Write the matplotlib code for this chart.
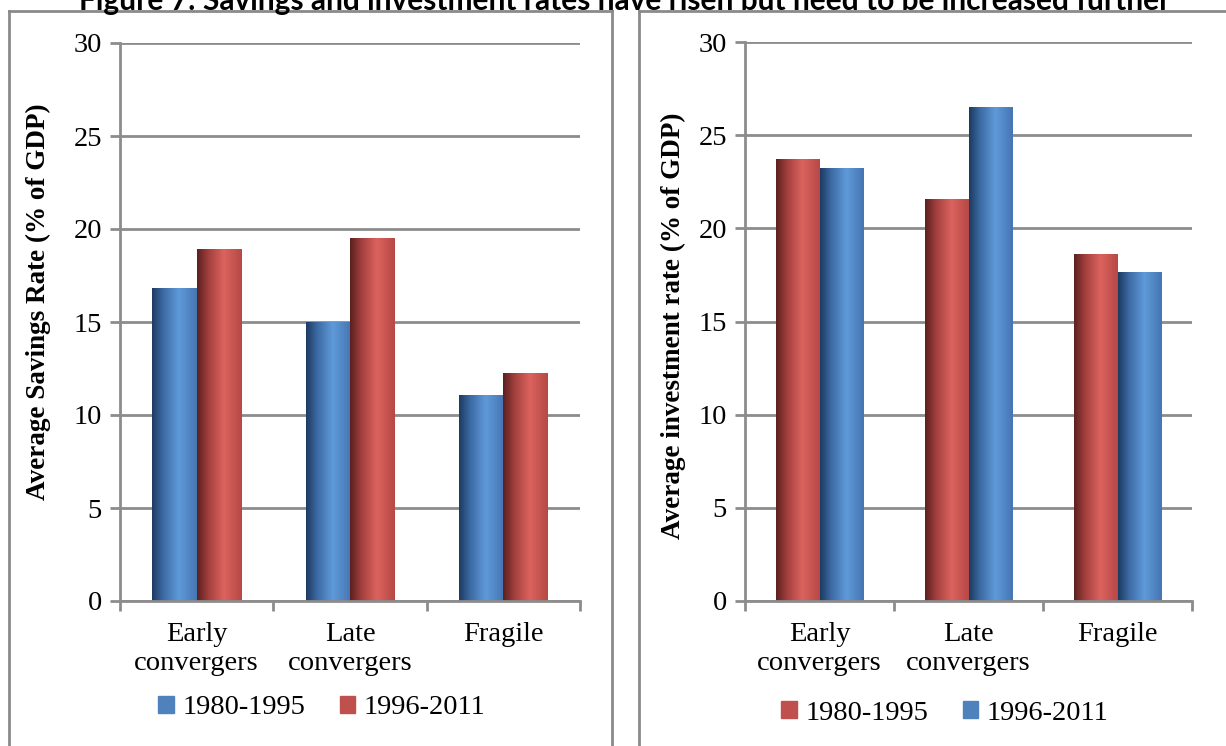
import numpy as np
import matplotlib
matplotlib.use("Agg")
import matplotlib.pyplot as plt
from matplotlib.colors import LinearSegmentedColormap
from matplotlib.lines import Line2D
from matplotlib.patches import Patch

# ---- data -------------------------------------------------------------
categories = ["Early\nconvergers", "Late\nconvergers", "Fragile"]
periods = ["1980-1995", "1996-2011"]

savings_1980_1995 = [16.85, 15.0, 11.1]
savings_1996_2011 = [18.9, 19.5, 12.25]

investment_1980_1995 = [23.7, 21.55, 18.6]
investment_1996_2011 = [23.25, 26.5, 17.65]

yticks = [0, 5, 10, 15, 20, 25, 30]
title = "Figure 7: Savings and investment rates have risen but need to be increased further"

# ---- styling ----------------------------------------------------------
SERIF = "Liberation Serif"
GRID = "#8c8c8c"
BLUE_FLAT = "#4f81bd"
RED_FLAT = "#c0504d"

blue_cmap = LinearSegmentedColormap.from_list(
    "blue_cyl", [(0.0, "#1c3a60"), (0.25, "#3c6aa3"), (0.6, "#5f9ad9"), (1.0, "#4675b2")])
red_cmap = LinearSegmentedColormap.from_list(
    "red_cyl", [(0.0, "#5a201f"), (0.25, "#a13f3d"), (0.6, "#dc635f"), (1.0, "#b54845")])

W, H = 1226, 746
fig = plt.figure(figsize=(W / 100, H / 100), dpi=100)
fig.patch.set_facecolor("white")


def shade_bars(ax, bars, cmap):
    """Paint each bar with a horizontal cylinder-style gradient."""
    grad = np.linspace(0, 1, 256).reshape(1, -1)
    for b in bars:
        b.set_facecolor("none")
        b.set_edgecolor("none")
        x0, y0 = b.get_x(), b.get_y()
        w, h = b.get_width(), b.get_height()
        im = ax.imshow(grad, cmap=cmap, aspect="auto",
                       extent=(x0, x0 + w, y0, y0 + h), zorder=3,
                       interpolation="bicubic")
        im.set_clip_path(b)


def make_panel(rect, s1, s2, c1, c2, ylabel, label_xy):
    ax = fig.add_axes(rect)
    x = np.arange(len(categories))
    bw = 0.29
    b1 = ax.bar(x - bw / 2, s1, bw, zorder=3)
    b2 = ax.bar(x + bw / 2, s2, bw, zorder=3)
    shade_bars(ax, b1, c1)
    shade_bars(ax, b2, c2)

    ax.set_xlim(-0.5, len(categories) - 0.5)
    ax.set_ylim(0, 30)
    ax.set_yticks(yticks)
    ax.set_yticklabels([str(v) for v in yticks], fontsize=20.5, family=SERIF)
    ax.yaxis.grid(True, color=GRID, lw=2, zorder=0)
    ax.set_axisbelow(True)

    ax.set_xticks(x)
    ax.set_xticklabels(categories, fontsize=20.5, family=SERIF, linespacing=1.2)
    ax.set_xticks(np.arange(len(categories) + 1) - 0.5, minor=True)
    ax.tick_params(axis="x", which="major", length=0, pad=15)
    ax.tick_params(axis="x", which="minor", length=7, width=2, color=GRID)
    ax.tick_params(axis="y", length=7, width=2, color=GRID, pad=6)

    for side in ("top", "right"):
        ax.spines[side].set_visible(False)
    for side in ("left", "bottom"):
        ax.spines[side].set_color(GRID)
        ax.spines[side].set_linewidth(2)
    ax.spines["bottom"].set_zorder(4)

    ax.set_ylabel(ylabel, fontsize=19.5, family=SERIF, fontweight="bold")
    ax.yaxis.set_label_coords(*label_xy)
    return ax


def fx(px):
    return px / W


def fy(py):
    return 1 - py / H


ax_l = make_panel([fx(120), fy(601), fx(580) - fx(120), fy(43) - fy(601)],
                  savings_1980_1995, savings_1996_2011, blue_cmap, red_cmap,
                  "Average Savings Rate (% of GDP)", (-0.15, 0.536))
ax_r = make_panel([fx(745), fy(601), fx(1192) - fx(745), fy(42) - fy(601)],
                  investment_1980_1995, investment_1996_2011, red_cmap, blue_cmap,
                  "Average investment rate (% of GDP)", (-0.132, 0.492))

# legends
leg_kw = dict(ncol=2, frameon=False, handlelength=0.55, handleheight=0.55,
              handletextpad=0.3, columnspacing=1.2, loc="center",
              prop={"family": SERIF, "size": 20.5})
fig.legend([Patch(color=BLUE_FLAT), Patch(color=RED_FLAT)], periods,
           bbox_to_anchor=(fx(322), fy(708)), **leg_kw)
fig.legend([Patch(color=RED_FLAT), Patch(color=BLUE_FLAT)], periods,
           bbox_to_anchor=(fx(945), fy(713)), **leg_kw)

# panel frames
frame_kw = dict(color="#8a8a8a", lw=2, transform=fig.transFigure)
for xs, ys in [
    ((9, 9), (11, 760)), ((9, 612), (11, 11)), ((612, 612), (11, 760)),
    ((639, 639), (11, 760)), ((639, 1240), (11, 11)),
]:
    fig.add_artist(Line2D([fx(v) for v in xs], [fy(v) for v in ys], **frame_kw))

# heading (sits partly above the page edge)
fig.text(fx(625), fy(10), title, ha="center", va="baseline",
         fontsize=21.5, fontweight="bold", family="Lato")

fig.savefig("out.png", dpi=100, facecolor="white")
